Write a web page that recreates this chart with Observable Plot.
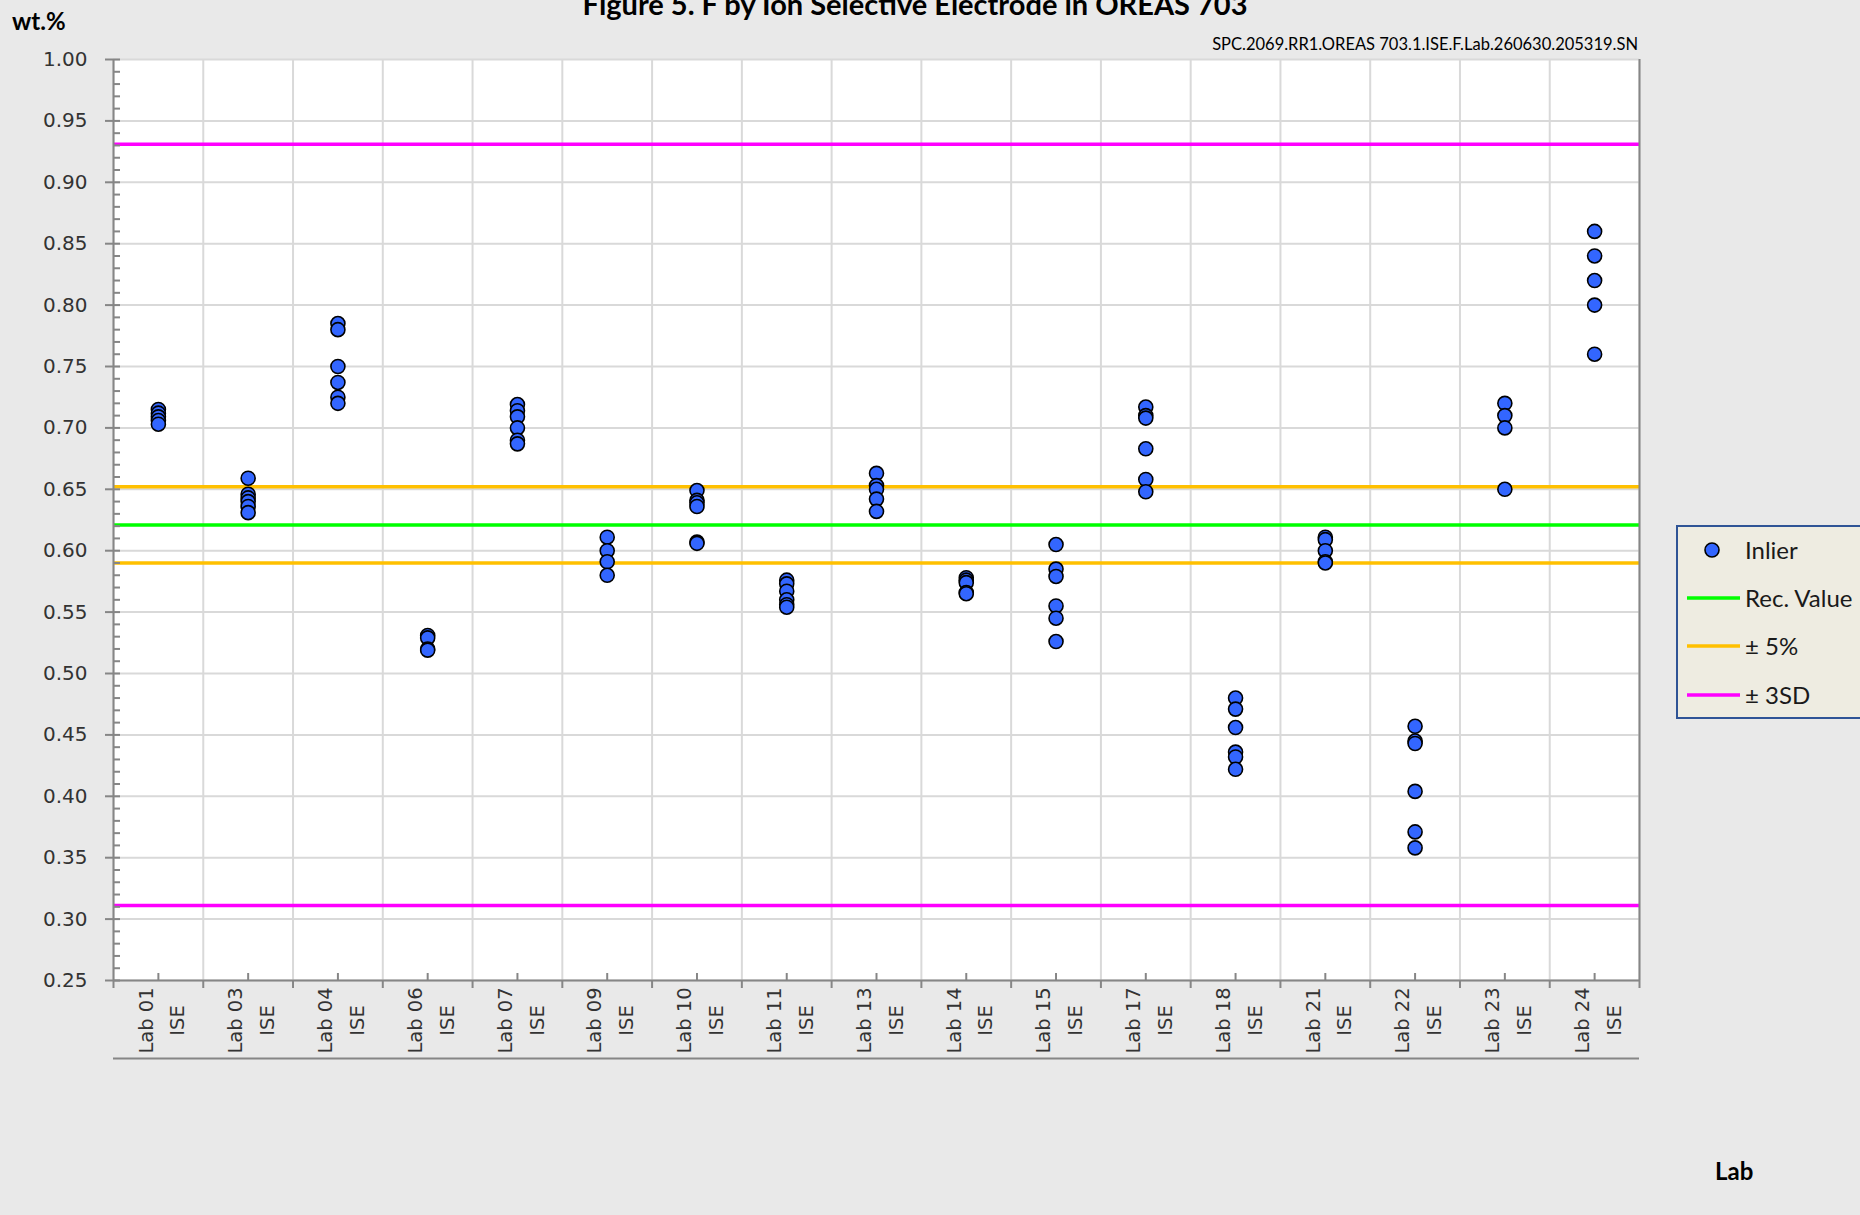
<!DOCTYPE html>
<html>
<head>
<meta charset="utf-8">
<script src="https://cdn.jsdelivr.net/npm/d3@7"></script>
<script src="https://cdn.jsdelivr.net/npm/@observablehq/plot@0.6"></script>
<style>
  html, body { margin: 0; padding: 0; background: #e9e9e9; }
  #root { position: relative; width: 1860px; height: 1215px; overflow: hidden; background: #e9e9e9; }
  .txt { position: absolute; white-space: nowrap; font-family: Lato, "Open Sans", sans-serif; color: #000; }
  #chart { position: absolute; left: 0; top: 0; }
  #legend { position: absolute; left: 1676px; top: 525px; width: 200px; height: 190px;
            border: 2px solid #2f5496; background: #eeece1; }
</style>
</head>
<body>
<div id="root">
  <div id="chart"></div>
  <div class="txt" id="title" style="font-weight:700;font-size:29px;line-height:29px;top:-11px;left:915px;transform:translateX(-50%);">Figure 5. F by Ion Selective Electrode in OREAS 703</div>
  <div class="txt" id="subtitle" style="font-size:16.5px;line-height:16.5px;top:36px;right:222px;">SPC.2069.RR1.OREAS 703.1.ISE.F.Lab.260630.205319.SN</div>
  <div class="txt" style="font-weight:700;font-size:24px;line-height:24px;top:9px;left:12px;">wt.%</div>
  <div class="txt" style="font-weight:700;font-size:24px;line-height:24px;top:1159px;left:1715px;">Lab</div>
  <div id="legend"></div>
</div>
<script>
// ---------------- data ----------------
const labs = ["Lab 01","Lab 03","Lab 04","Lab 06","Lab 07","Lab 09","Lab 10","Lab 11","Lab 13",
              "Lab 14","Lab 15","Lab 17","Lab 18","Lab 21","Lab 22","Lab 23","Lab 24"];
const method = "ISE";
const results = [
  [0.715, 0.712, 0.709, 0.706, 0.703],
  [0.659, 0.646, 0.643, 0.640, 0.636, 0.631],
  [0.785, 0.780, 0.750, 0.737, 0.725, 0.720],
  [0.531, 0.529, 0.520, 0.519],
  [0.719, 0.714, 0.709, 0.700, 0.690, 0.687],
  [0.611, 0.600, 0.591, 0.580],
  [0.649, 0.641, 0.639, 0.636, 0.607, 0.606],
  [0.576, 0.573, 0.567, 0.560, 0.556, 0.554],
  [0.663, 0.653, 0.650, 0.642, 0.632],
  [0.578, 0.576, 0.574, 0.566, 0.565],
  [0.605, 0.585, 0.579, 0.555, 0.545, 0.526],
  [0.717, 0.710, 0.708, 0.683, 0.658, 0.648],
  [0.480, 0.471, 0.456, 0.436, 0.432, 0.422],
  [0.611, 0.609, 0.600, 0.591, 0.590],
  [0.457, 0.445, 0.443, 0.404, 0.371, 0.358],
  [0.720, 0.710, 0.700, 0.650],
  [0.860, 0.840, 0.820, 0.800, 0.760]
];
const recValue = 0.621;
const plusMinus5 = [0.590, 0.652];
const plusMinus3SD = [0.311, 0.931];
const yMajorTicks = [0.25,0.30,0.35,0.40,0.45,0.50,0.55,0.60,0.65,0.70,0.75,0.80,0.85,0.90,0.95,1.00];
const yMinorTicks = d3.range(25, 101, 1).map(d => d / 100);
const legendNames = ["Inlier", "Rec. Value", "± 5%", "± 3SD"];

// ---------------- styles ----------------
const C = { dot: "#3366ff", rec: "#00ff00", pct: "#ffc000", sd: "#ff00ff",
            grid: "#d9d9d9", axis: "#868686", text: "#333333" };

const rows = labs.flatMap((lab, i) => results[i].map(v => ({lab, i, v})));
const bounds = d3.range(0, labs.length + 1);
const centers = labs.map((_, i) => i + 0.5);

const chart = Plot.plot({
  width: 1860, height: 1215,
  marginLeft: 113, marginRight: 221, marginTop: 59, marginBottom: 235,
  style: { background: "transparent", fontFamily: "DejaVu Sans", color: C.text },
  x: { type: "linear", domain: [0, labs.length], label: null },
  y: { type: "linear", domain: [0.25, 1.00], label: null },
  marks: [
    Plot.frame({ fill: "white", stroke: null }),
    Plot.gridY(yMajorTicks, { stroke: C.grid, strokeOpacity: 1, strokeWidth: 2 }),
    Plot.gridX(bounds, { stroke: C.grid, strokeOpacity: 1, strokeWidth: 2 }),
    Plot.ruleY(plusMinus3SD, { stroke: C.sd, strokeWidth: 3.5 }),
    Plot.ruleY(plusMinus5, { stroke: C.pct, strokeWidth: 3.5 }),
    Plot.ruleY([recValue], { stroke: C.rec, strokeWidth: 3.5 }),
    // axis lines
    Plot.ruleX([0], { stroke: C.axis, strokeWidth: 2 }),
    Plot.ruleX([labs.length], { stroke: C.axis, strokeWidth: 2 }),
    Plot.ruleY([0.25], { stroke: C.axis, strokeWidth: 2 }),
    Plot.ruleY([0.25], { stroke: C.axis, strokeWidth: 2, dy: 78 }),
    // y axis
    Plot.axisY(yMajorTicks, { tickSize: 8, tickPadding: 18, tickFormat: d3.format(".2f"),
      fontSize: 20, stroke: C.axis, strokeWidth: 2, fill: C.text, label: null }),
    Plot.axisY(yMinorTicks, { tickSize: -7, tickFormat: () => "", stroke: C.axis, strokeWidth: 2, label: null }),
    // x axis ticks
    Plot.axisX(bounds, { tickSize: 8, tickFormat: () => "", stroke: C.axis, strokeWidth: 2, label: null }),
    Plot.axisX(centers, { tickSize: -7, tickFormat: () => "", stroke: C.axis, strokeWidth: 2, label: null }),
    // x labels
    Plot.text(labs, { x: (d, i) => i + 0.5, frameAnchor: "bottom", text: d => `${d}\n${method}`,
      rotate: -90, dy: 40, textAnchor: "middle", lineAnchor: "middle", lineHeight: 1.63,
      fontSize: 19.5, fill: C.text }),
    // data
    Plot.dot(rows, { x: d => d.i + 0.5, y: "v", r: 7, fill: C.dot, stroke: "#000", strokeWidth: 1.6 })
  ]
});
document.getElementById("chart").appendChild(chart);

// ---------------- legend ----------------
const lg = d3.select("#legend").append("svg").attr("width", 200).attr("height", 190)
  .style("position", "absolute").style("left", "0px").style("top", "0px");
const legendColors = [C.dot, C.rec, C.pct, C.sd];
const rowY = [23, 71, 119, 168];
legendNames.forEach((name, k) => {
  const g = lg.append("g").attr("transform", `translate(0,${rowY[k]})`);
  if (k === 0) {
    g.append("circle").attr("cx", 34).attr("cy", 0).attr("r", 7)
      .attr("fill", legendColors[k]).attr("stroke", "#000").attr("stroke-width", 1.6);
  } else {
    g.append("line").attr("x1", 9).attr("x2", 62).attr("y1", 0).attr("y2", 0)
      .attr("stroke", legendColors[k]).attr("stroke-width", 3.5);
  }
  g.append("text").attr("x", 67).attr("y", 8.5).text(name)
    .attr("font-family", "Lato, sans-serif").attr("font-size", 24).attr("fill", "#1a1a1a");
});
</script>
</body>
</html>
